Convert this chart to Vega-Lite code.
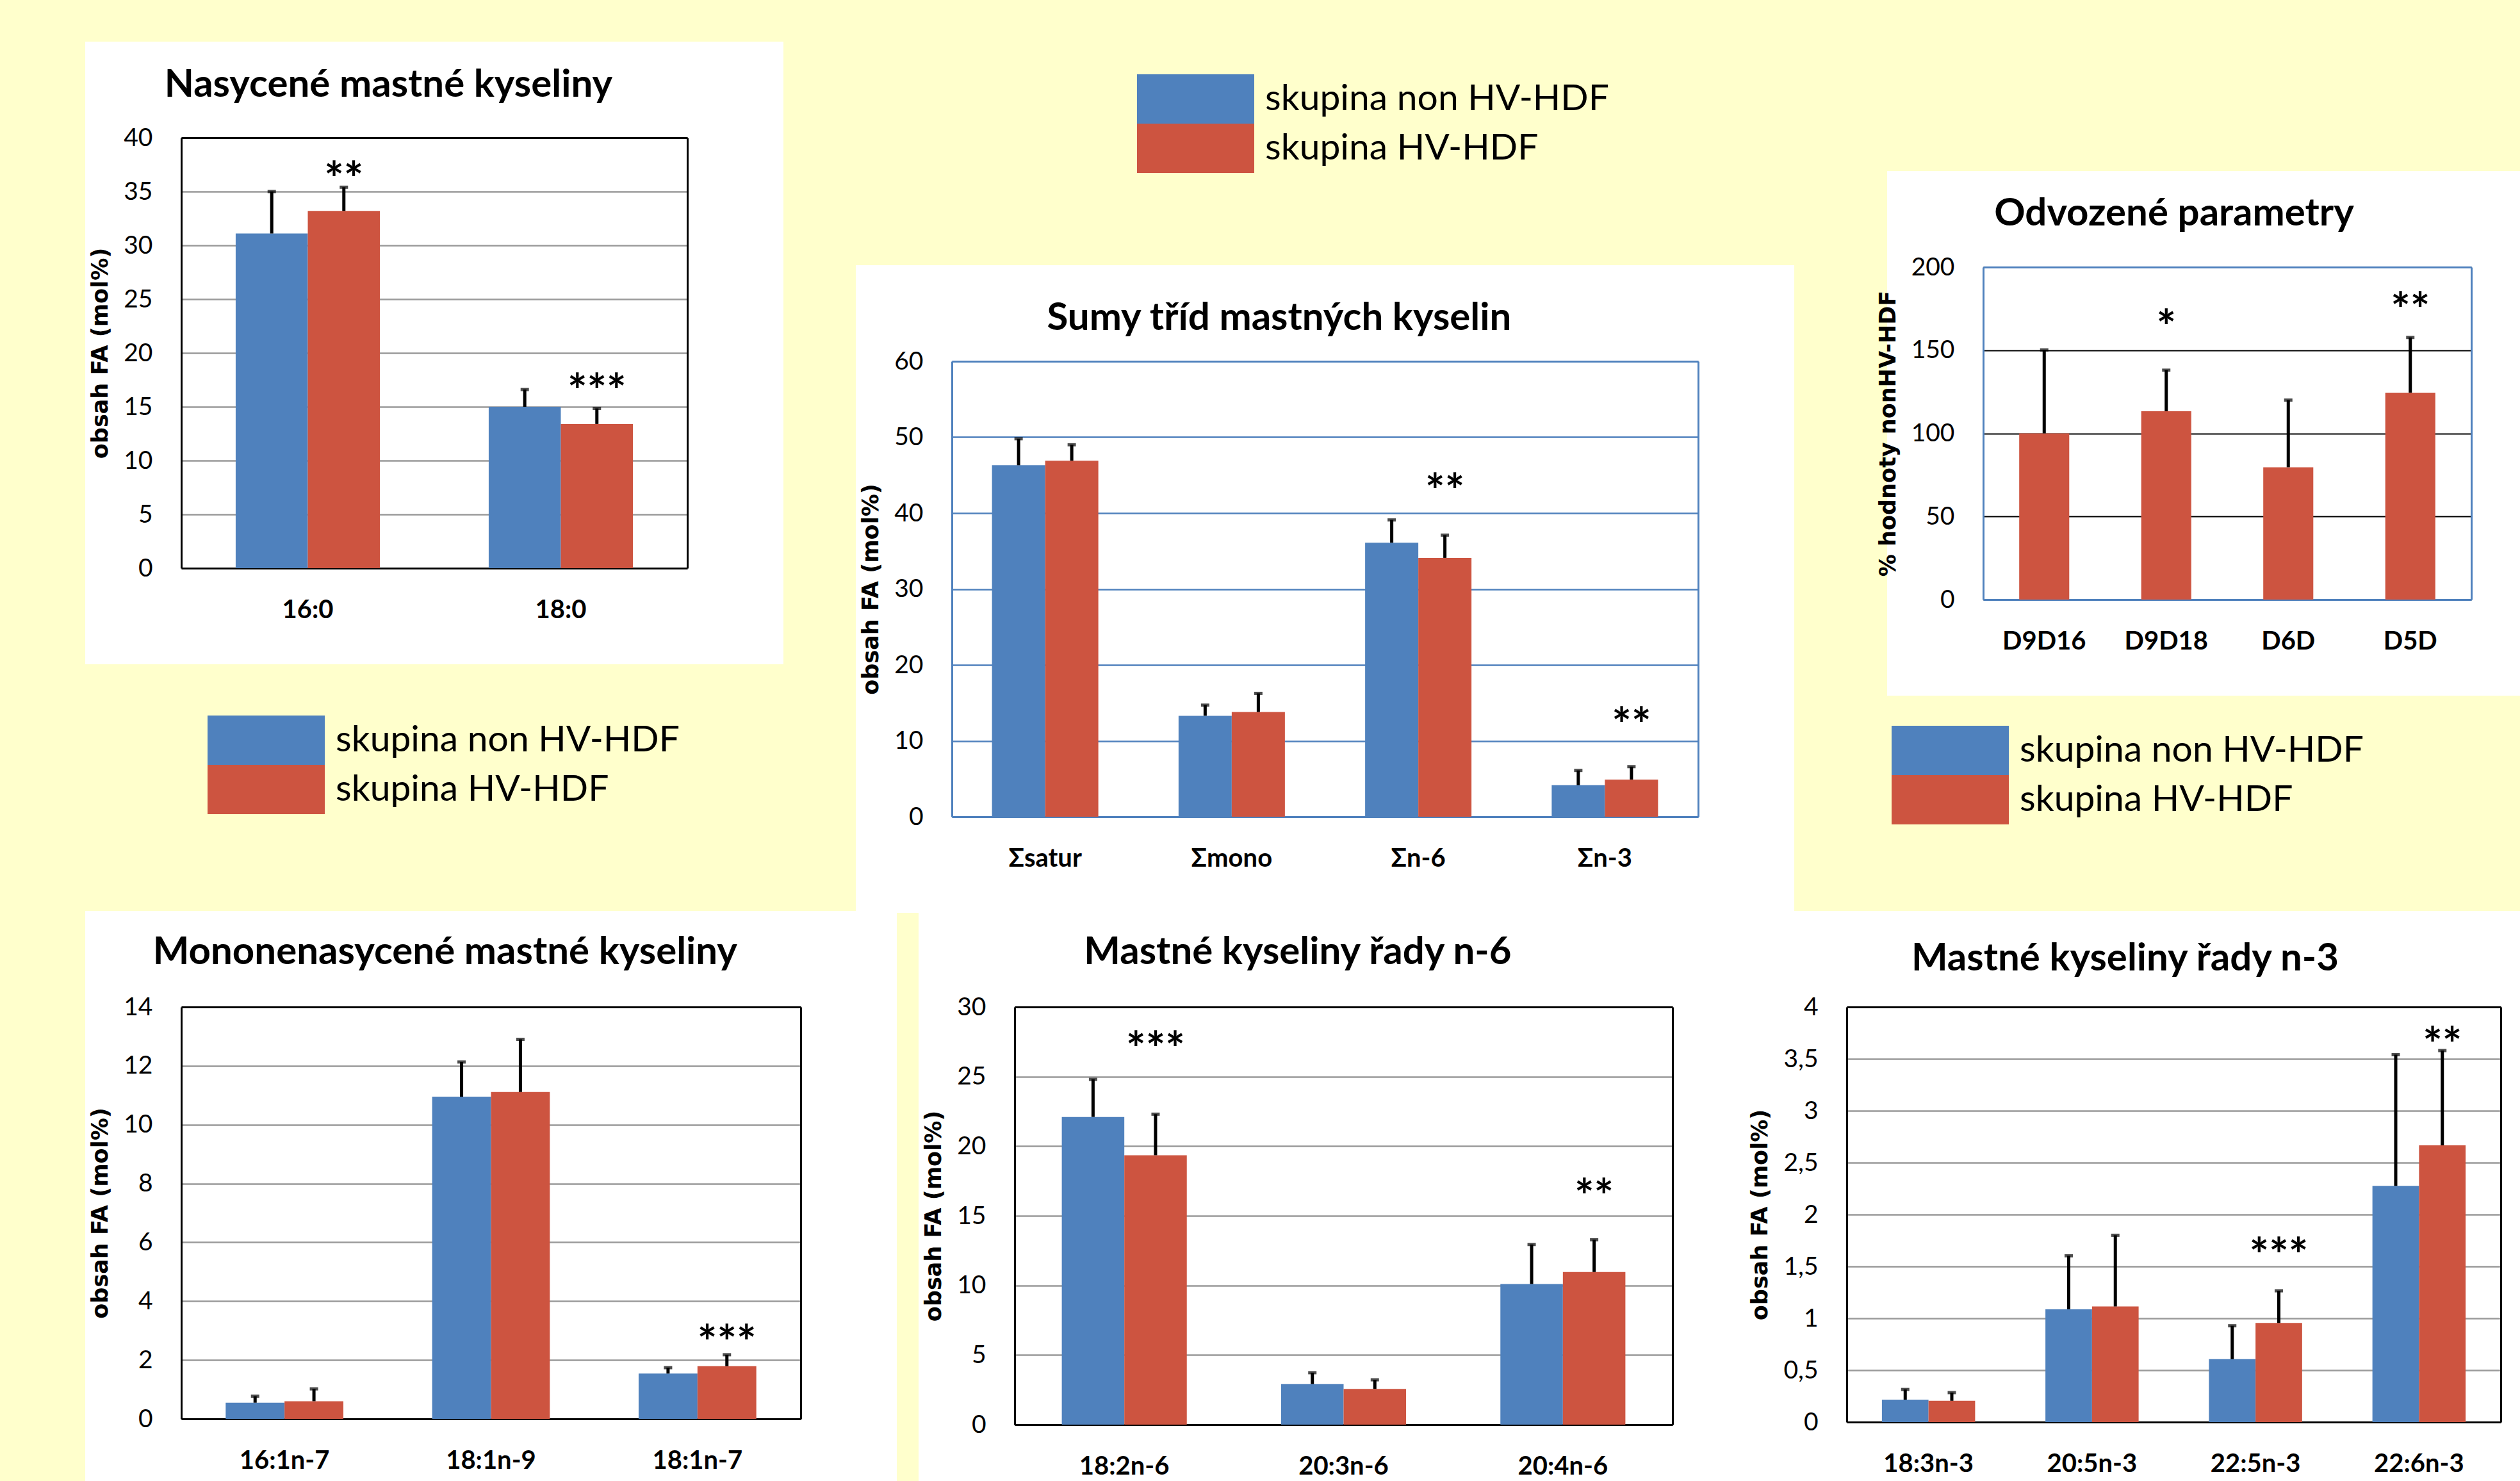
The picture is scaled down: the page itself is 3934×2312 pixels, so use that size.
{
  "$schema": "https://vega.github.io/schema/vega-lite/v6.json",
  "background": "#FFFFCC",
  "padding": {"left": -11, "top": -47, "right": -114, "bottom": -144},
  "datasets": {
    "sat": [
      {"cat": "16:0", "grp": "skupina non HV-HDF", "value": 31.1, "upper": 35.0},
      {"cat": "16:0", "grp": "skupina HV-HDF", "value": 33.2, "upper": 35.4, "sig": "**", "sig_y": 37.0},
      {"cat": "18:0", "grp": "skupina non HV-HDF", "value": 15.0, "upper": 16.6},
      {"cat": "18:0", "grp": "skupina HV-HDF", "value": 13.4, "upper": 14.85, "sig": "***", "sig_y": 17.3}
    ],
    "sum": [
      {"cat": "Σsatur", "grp": "skupina non HV-HDF", "value": 46.3, "upper": 49.8},
      {"cat": "Σsatur", "grp": "skupina HV-HDF", "value": 46.9, "upper": 49.0},
      {"cat": "Σmono", "grp": "skupina non HV-HDF", "value": 13.3, "upper": 14.7},
      {"cat": "Σmono", "grp": "skupina HV-HDF", "value": 13.8, "upper": 16.25},
      {"cat": "Σn-6", "grp": "skupina non HV-HDF", "value": 36.1, "upper": 39.1},
      {"cat": "Σn-6", "grp": "skupina HV-HDF", "value": 34.1, "upper": 37.1, "sig": "**", "sig_y": 44.1},
      {"cat": "Σn-3", "grp": "skupina non HV-HDF", "value": 4.15, "upper": 6.1},
      {"cat": "Σn-3", "grp": "skupina HV-HDF", "value": 4.9, "upper": 6.6, "sig": "**", "sig_y": 13.35}
    ],
    "der": [
      {"cat": "D9D16", "grp": "skupina HV-HDF", "value": 100, "upper": 150.2},
      {"cat": "D9D18", "grp": "skupina HV-HDF", "value": 113.3, "upper": 138, "sig": "*", "sig_y": 169.5},
      {"cat": "D6D", "grp": "skupina HV-HDF", "value": 79.6, "upper": 120},
      {"cat": "D5D", "grp": "skupina HV-HDF", "value": 124.5, "upper": 157.7, "sig": "**", "sig_y": 180}
    ],
    "mono": [
      {"cat": "16:1n-7", "grp": "skupina non HV-HDF", "value": 0.55, "upper": 0.77},
      {"cat": "16:1n-7", "grp": "skupina HV-HDF", "value": 0.6, "upper": 1.02},
      {"cat": "18:1n-9", "grp": "skupina non HV-HDF", "value": 10.95, "upper": 12.13},
      {"cat": "18:1n-9", "grp": "skupina HV-HDF", "value": 11.11, "upper": 12.9},
      {"cat": "18:1n-7", "grp": "skupina non HV-HDF", "value": 1.54, "upper": 1.74},
      {"cat": "18:1n-7", "grp": "skupina HV-HDF", "value": 1.79, "upper": 2.18, "sig": "***", "sig_y": 2.91}
    ],
    "n6": [
      {"cat": "18:2n-6", "grp": "skupina non HV-HDF", "value": 22.1, "upper": 24.8},
      {"cat": "18:2n-6", "grp": "skupina HV-HDF", "value": 19.35, "upper": 22.3, "sig": "***", "sig_y": 27.66},
      {"cat": "20:3n-6", "grp": "skupina non HV-HDF", "value": 2.91, "upper": 3.73},
      {"cat": "20:3n-6", "grp": "skupina HV-HDF", "value": 2.57, "upper": 3.22},
      {"cat": "20:4n-6", "grp": "skupina non HV-HDF", "value": 10.1, "upper": 12.94},
      {"cat": "20:4n-6", "grp": "skupina HV-HDF", "value": 10.96, "upper": 13.28, "sig": "**", "sig_y": 17.06}
    ],
    "n3": [
      {"cat": "18:3n-3", "grp": "skupina non HV-HDF", "value": 0.216, "upper": 0.314},
      {"cat": "18:3n-3", "grp": "skupina HV-HDF", "value": 0.205, "upper": 0.284},
      {"cat": "20:5n-3", "grp": "skupina non HV-HDF", "value": 1.087, "upper": 1.602},
      {"cat": "20:5n-3", "grp": "skupina HV-HDF", "value": 1.114, "upper": 1.8},
      {"cat": "22:5n-3", "grp": "skupina non HV-HDF", "value": 0.606, "upper": 0.928},
      {"cat": "22:5n-3", "grp": "skupina HV-HDF", "value": 0.955, "upper": 1.265, "sig": "***", "sig_y": 1.70},
      {"cat": "22:6n-3", "grp": "skupina non HV-HDF", "value": 2.277, "upper": 3.54},
      {"cat": "22:6n-3", "grp": "skupina HV-HDF", "value": 2.667, "upper": 3.58, "sig": "**", "sig_y": 3.73}
    ]
  },
  "config": {
    "font": "Lato",
    "locale": {"number": {"decimal": ",", "thousands": " ", "grouping": [3], "currency": ["", " Kč"]}},
    "title": {"font": "Lato", "fontSize": 60, "fontWeight": "bold", "color": "#000", "anchor": "middle", "frame": "bounds"},
    "axis": {"ticks": false, "labelColor": "#000", "titleColor": "#000", "labelFont": "Lato", "titleFont": "DejaVu Sans", "titleFontWeight": "bold", "titleFontSize": 35, "domainWidth": 3, "gridWidth": 2.5, "labelOverlap": false},
    "axisX": {"labelFontWeight": "bold", "labelFontSize": 40, "labelPadding": 45, "labelAngle": 0, "grid": false},
    "axisY": {"labelFontSize": 39, "labelPadding": 45, "titlePadding": 18},
    "legend": {"symbolType": "M-1,-0.42H1V0.42H-1Z", "symbolSize": 33489, "symbolStrokeWidth": 0, "labelFont": "Lato", "labelFontSize": 57, "labelColor": "#000", "labelOffset": 17, "rowPadding": 0, "clipHeight": 77, "padding": 0, "direction": "vertical", "labelLimit": 0, "symbolOpacity": 1}
  },
  "resolve": {"scale": {"color": "independent", "xOffset": "independent"}, "legend": {"color": "independent"}},
  "spacing": -203,
  "vconcat": [
    {
      "resolve": {"scale": {"color": "independent", "xOffset": "independent"}, "legend": {"color": "independent"}},
      "spacing": -21,
      "hconcat": [
        {
          "resolve": {"scale": {"color": "independent", "xOffset": "independent"}, "legend": {"color": "independent"}},
          "spacing": -31,
          "hconcat": [
            {
              "width": 790, "height": 672,
              "view": {"fill": "white", "stroke": "white", "strokeWidth": 300},
              "title": {"text": "Nasycené mastné kyseliny", "offset": 32},
              "data": {"name": "sat"},
              "resolve": {"axis": {"x": "independent", "y": "independent"}},
              "layer": [
                {"mark": {"type": "bar"},
                 "encoding": {
                   "x": {"field": "cat", "type": "nominal", "sort": null, "scale": {"domain": ["16:0", "18:0"], "paddingInner": 0.43, "paddingOuter": 0.215}, "axis": {"title": null, "domainColor": "#000"}},
                   "xOffset": {"field": "grp", "type": "nominal", "scale": {"domain": ["skupina non HV-HDF", "skupina HV-HDF"]}},
                   "y": {"field": "value", "type": "quantitative", "scale": {"domain": [0, 40], "nice": false}, "axis": {"title": "obsah FA (mol%)", "values": [0, 5, 10, 15, 20, 25, 30, 35, 40], "gridColor": "#9A9A9A", "domainColor": "#000"}},
                   "color": {"field": "grp", "type": "nominal", "scale": {"domain": ["skupina non HV-HDF", "skupina HV-HDF"], "range": ["#4F81BD", "#CD5440"]}, "legend": {"title": null, "orient": "none", "legendX": 41, "legendY": 902}}
                 }},
                {"mark": {"type": "rule", "color": "#000", "strokeWidth": 5},
                 "encoding": {
                   "x": {"field": "cat", "type": "nominal", "sort": null, "scale": {"domain": ["16:0", "18:0"]}, "axis": {"orient": "top", "labels": false, "title": null, "domainColor": "#000"}},
                   "xOffset": {"field": "grp", "type": "nominal", "scale": {"domain": ["skupina non HV-HDF", "skupina HV-HDF"]}},
                   "y": {"field": "value", "type": "quantitative", "scale": {"domain": [0, 40], "nice": false}, "axis": {"orient": "right", "labels": false, "title": null, "grid": false, "domainColor": "#000"}},
                   "y2": {"field": "upper"}
                 }},
                {"mark": {"type": "tick", "color": "#000", "thickness": 5, "size": 13},
                 "encoding": {
                   "x": {"field": "cat", "type": "nominal", "sort": null, "scale": {"domain": ["16:0", "18:0"]}, "axis": null},
                   "xOffset": {"field": "grp", "type": "nominal", "scale": {"domain": ["skupina non HV-HDF", "skupina HV-HDF"]}},
                   "y": {"field": "upper", "type": "quantitative", "scale": {"domain": [0, 40], "nice": false}, "axis": null}
                 }},
                {"transform": [{"filter": "isValid(datum.sig)"}],
                 "mark": {"type": "text", "font": "Lato", "fontWeight": "bold", "fontSize": 72, "dy": 19, "color": "#000"},
                 "encoding": {
                   "x": {"field": "cat", "type": "nominal", "sort": null, "scale": {"domain": ["16:0", "18:0"]}, "axis": null},
                   "xOffset": {"field": "grp", "type": "nominal", "scale": {"domain": ["skupina non HV-HDF", "skupina HV-HDF"]}},
                   "y": {"field": "sig_y", "type": "quantitative", "scale": {"domain": [0, 40], "nice": false}, "axis": null},
                   "text": {"field": "sig"}
                 }}
              ]
            },
            {
              "resolve": {"scale": {"color": "independent", "xOffset": "independent"}, "legend": {"color": "independent"}},
              "spacing": 47,
              "vconcat": [
                {
                  "width": 1, "height": 1,
                  "view": {"stroke": null, "fill": null},
                  "data": {"values": []},
                  "mark": {"type": "bar"},
                  "encoding": {
                    "color": {"field": "grp", "type": "nominal", "scale": {"domain": ["skupina non HV-HDF", "skupina HV-HDF"], "range": ["#4F81BD", "#CD5440"]}, "legend": {"title": null, "orient": "none", "legendX": 289, "legendY": -99}}
                  }
                },
                {
                  "width": 1165, "height": 711,
                  "view": {"fill": "white", "stroke": "white", "strokeWidth": 300},
                  "title": {"text": "Sumy tříd mastných kyselin", "offset": 17},
                  "data": {"name": "sum"},
                  "resolve": {"axis": {"x": "independent", "y": "independent"}},
                  "layer": [
                    {"mark": {"type": "bar"},
                     "encoding": {
                       "x": {"field": "cat", "type": "nominal", "sort": null, "scale": {"domain": ["Σsatur", "Σmono", "Σn-6", "Σn-3"], "paddingInner": 0.43, "paddingOuter": 0.215}, "axis": {"title": null, "domainColor": "#4F81BD"}},
                       "xOffset": {"field": "grp", "type": "nominal", "scale": {"domain": ["skupina non HV-HDF", "skupina HV-HDF"]}},
                       "y": {"field": "value", "type": "quantitative", "scale": {"domain": [0, 60], "nice": false}, "axis": {"title": "obsah FA (mol%)", "values": [0, 10, 20, 30, 40, 50, 60], "gridColor": "#4F81BD", "domainColor": "#4F81BD"}},
                       "color": {"field": "grp", "type": "nominal", "scale": {"domain": ["skupina non HV-HDF", "skupina HV-HDF"], "range": ["#4F81BD", "#CD5440"]}, "legend": null}
                     }},
                    {"mark": {"type": "rule", "color": "#000", "strokeWidth": 5},
                     "encoding": {
                       "x": {"field": "cat", "type": "nominal", "sort": null, "scale": {"domain": ["Σsatur", "Σmono", "Σn-6", "Σn-3"]}, "axis": {"orient": "top", "labels": false, "title": null, "domainColor": "#4F81BD"}},
                       "xOffset": {"field": "grp", "type": "nominal", "scale": {"domain": ["skupina non HV-HDF", "skupina HV-HDF"]}},
                       "y": {"field": "value", "type": "quantitative", "scale": {"domain": [0, 60], "nice": false}, "axis": {"orient": "right", "labels": false, "title": null, "grid": false, "domainColor": "#4F81BD"}},
                       "y2": {"field": "upper"}
                     }},
                    {"mark": {"type": "tick", "color": "#000", "thickness": 5, "size": 13},
                     "encoding": {
                       "x": {"field": "cat", "type": "nominal", "sort": null, "scale": {"domain": ["Σsatur", "Σmono", "Σn-6", "Σn-3"]}, "axis": null},
                       "xOffset": {"field": "grp", "type": "nominal", "scale": {"domain": ["skupina non HV-HDF", "skupina HV-HDF"]}},
                       "y": {"field": "upper", "type": "quantitative", "scale": {"domain": [0, 60], "nice": false}, "axis": null}
                     }},
                    {"transform": [{"filter": "isValid(datum.sig)"}],
                     "mark": {"type": "text", "font": "Lato", "fontWeight": "bold", "fontSize": 72, "dy": 19, "color": "#000"},
                     "encoding": {
                       "x": {"field": "cat", "type": "nominal", "sort": null, "scale": {"domain": ["Σsatur", "Σmono", "Σn-6", "Σn-3"]}, "axis": null},
                       "xOffset": {"field": "grp", "type": "nominal", "scale": {"domain": ["skupina non HV-HDF", "skupina HV-HDF"]}},
                       "y": {"field": "sig_y", "type": "quantitative", "scale": {"domain": [0, 60], "nice": false}, "axis": null},
                       "text": {"field": "sig"}
                     }}
                  ]
                }
              ]
            }
          ]
        },
        {
          "resolve": {"scale": {"color": "independent", "xOffset": "independent"}, "legend": {"color": "independent"}},
          "spacing": -62,
          "vconcat": [
            {
              "width": 1, "height": 1,
              "view": {"stroke": null, "fill": null},
              "data": {"values": []},
              "mark": {"type": "point"}
            },
            {
              "width": 762, "height": 519,
              "view": {"fill": "white", "stroke": "white", "strokeWidth": 300},
              "title": {"text": "Odvozené parametry", "offset": 33},
              "data": {"name": "der"},
              "resolve": {"axis": {"x": "independent", "y": "independent"}},
              "layer": [
                {"mark": {"type": "bar"},
                 "encoding": {
                   "x": {"field": "cat", "type": "nominal", "sort": null, "scale": {"domain": ["D9D16", "D9D18", "D6D", "D5D"], "paddingInner": 0.59, "paddingOuter": 0.295}, "axis": {"title": null, "domainColor": "#4F81BD"}},
                   "y": {"field": "value", "type": "quantitative", "scale": {"domain": [0, 200], "nice": false}, "axis": {"title": "% hodnoty nonHV-HDF", "values": [0, 50, 100, 150, 200], "gridColor": "#000", "gridWidth": 2, "domainColor": "#4F81BD"}},
                   "color": {"field": "grp", "type": "nominal", "scale": {"domain": ["skupina non HV-HDF", "skupina HV-HDF"], "range": ["#4F81BD", "#CD5440"]}, "legend": {"title": null, "orient": "none", "legendX": -143, "legendY": 716}}
                 }},
                {"mark": {"type": "rule", "color": "#000", "strokeWidth": 5},
                 "encoding": {
                   "x": {"field": "cat", "type": "nominal", "sort": null, "scale": {"domain": ["D9D16", "D9D18", "D6D", "D5D"]}, "axis": {"orient": "top", "labels": false, "title": null, "domainColor": "#4F81BD"}},
                   "y": {"field": "value", "type": "quantitative", "scale": {"domain": [0, 200], "nice": false}, "axis": {"orient": "right", "labels": false, "title": null, "grid": false, "domainColor": "#4F81BD"}},
                   "y2": {"field": "upper"}
                 }},
                {"mark": {"type": "tick", "color": "#000", "thickness": 5, "size": 13},
                 "encoding": {
                   "x": {"field": "cat", "type": "nominal", "sort": null, "scale": {"domain": ["D9D16", "D9D18", "D6D", "D5D"]}, "axis": null},
                   "y": {"field": "upper", "type": "quantitative", "scale": {"domain": [0, 200], "nice": false}, "axis": null}
                 }},
                {"transform": [{"filter": "isValid(datum.sig)"}],
                 "mark": {"type": "text", "font": "Lato", "fontWeight": "bold", "fontSize": 72, "dy": 19, "color": "#000"},
                 "encoding": {
                   "x": {"field": "cat", "type": "nominal", "sort": null, "scale": {"domain": ["D9D16", "D9D18", "D6D", "D5D"]}, "axis": null},
                   "y": {"field": "sig_y", "type": "quantitative", "scale": {"domain": [0, 200], "nice": false}, "axis": null},
                   "text": {"field": "sig"}
                 }}
              ]
            }
          ]
        }
      ]
    },
    {
      "resolve": {"scale": {"color": "independent", "xOffset": "independent"}, "legend": {"color": "independent"}},
      "spacing": -181,
      "hconcat": [
        {
          "resolve": {"scale": {"color": "independent", "xOffset": "independent"}, "legend": {"color": "independent"}},
          "spacing": -110,
          "hconcat": [
            {
              "width": 967, "height": 643,
              "view": {"fill": "white", "stroke": "white", "strokeWidth": 300},
              "title": {"text": "Mononenasycené mastné kyseliny", "offset": 35},
              "data": {"name": "mono"},
              "resolve": {"axis": {"x": "independent", "y": "independent"}},
              "layer": [
                {"mark": {"type": "bar"},
                 "encoding": {
                   "x": {"field": "cat", "type": "nominal", "sort": null, "scale": {"domain": ["16:1n-7", "18:1n-9", "18:1n-7"], "paddingInner": 0.43, "paddingOuter": 0.215}, "axis": {"title": null, "domainColor": "#000"}},
                   "xOffset": {"field": "grp", "type": "nominal", "scale": {"domain": ["skupina non HV-HDF", "skupina HV-HDF"]}},
                   "y": {"field": "value", "type": "quantitative", "scale": {"domain": [0, 14], "nice": false}, "axis": {"title": "obsah FA (mol%)", "values": [0, 2, 4, 6, 8, 10, 12, 14], "gridColor": "#9A9A9A", "domainColor": "#000"}},
                   "color": {"field": "grp", "type": "nominal", "scale": {"domain": ["skupina non HV-HDF", "skupina HV-HDF"], "range": ["#4F81BD", "#CD5440"]}, "legend": null}
                 }},
                {"mark": {"type": "rule", "color": "#000", "strokeWidth": 5},
                 "encoding": {
                   "x": {"field": "cat", "type": "nominal", "sort": null, "scale": {"domain": ["16:1n-7", "18:1n-9", "18:1n-7"]}, "axis": {"orient": "top", "labels": false, "title": null, "domainColor": "#000"}},
                   "xOffset": {"field": "grp", "type": "nominal", "scale": {"domain": ["skupina non HV-HDF", "skupina HV-HDF"]}},
                   "y": {"field": "value", "type": "quantitative", "scale": {"domain": [0, 14], "nice": false}, "axis": {"orient": "right", "labels": false, "title": null, "grid": false, "domainColor": "#000"}},
                   "y2": {"field": "upper"}
                 }},
                {"mark": {"type": "tick", "color": "#000", "thickness": 5, "size": 13},
                 "encoding": {
                   "x": {"field": "cat", "type": "nominal", "sort": null, "scale": {"domain": ["16:1n-7", "18:1n-9", "18:1n-7"]}, "axis": null},
                   "xOffset": {"field": "grp", "type": "nominal", "scale": {"domain": ["skupina non HV-HDF", "skupina HV-HDF"]}},
                   "y": {"field": "upper", "type": "quantitative", "scale": {"domain": [0, 14], "nice": false}, "axis": null}
                 }},
                {"transform": [{"filter": "isValid(datum.sig)"}],
                 "mark": {"type": "text", "font": "Lato", "fontWeight": "bold", "fontSize": 72, "dy": 19, "color": "#000"},
                 "encoding": {
                   "x": {"field": "cat", "type": "nominal", "sort": null, "scale": {"domain": ["16:1n-7", "18:1n-9", "18:1n-7"]}, "axis": null},
                   "xOffset": {"field": "grp", "type": "nominal", "scale": {"domain": ["skupina non HV-HDF", "skupina HV-HDF"]}},
                   "y": {"field": "sig_y", "type": "quantitative", "scale": {"domain": [0, 14], "nice": false}, "axis": null},
                   "text": {"field": "sig"}
                 }}
              ]
            },
            {
              "width": 1027, "height": 652,
              "view": {"fill": "white", "stroke": "white", "strokeWidth": 300},
              "title": {"text": "Mastné kyseliny řady n-6", "offset": 35},
              "data": {"name": "n6"},
              "resolve": {"axis": {"x": "independent", "y": "independent"}},
              "layer": [
                {"mark": {"type": "bar"},
                 "encoding": {
                   "x": {"field": "cat", "type": "nominal", "sort": null, "scale": {"domain": ["18:2n-6", "20:3n-6", "20:4n-6"], "paddingInner": 0.43, "paddingOuter": 0.215}, "axis": {"title": null, "domainColor": "#000"}},
                   "xOffset": {"field": "grp", "type": "nominal", "scale": {"domain": ["skupina non HV-HDF", "skupina HV-HDF"]}},
                   "y": {"field": "value", "type": "quantitative", "scale": {"domain": [0, 30], "nice": false}, "axis": {"title": "obsah FA (mol%)", "values": [0, 5, 10, 15, 20, 25, 30], "gridColor": "#9A9A9A", "domainColor": "#000"}},
                   "color": {"field": "grp", "type": "nominal", "scale": {"domain": ["skupina non HV-HDF", "skupina HV-HDF"], "range": ["#4F81BD", "#CD5440"]}, "legend": null}
                 }},
                {"mark": {"type": "rule", "color": "#000", "strokeWidth": 5},
                 "encoding": {
                   "x": {"field": "cat", "type": "nominal", "sort": null, "scale": {"domain": ["18:2n-6", "20:3n-6", "20:4n-6"]}, "axis": {"orient": "top", "labels": false, "title": null, "domainColor": "#000"}},
                   "xOffset": {"field": "grp", "type": "nominal", "scale": {"domain": ["skupina non HV-HDF", "skupina HV-HDF"]}},
                   "y": {"field": "value", "type": "quantitative", "scale": {"domain": [0, 30], "nice": false}, "axis": {"orient": "right", "labels": false, "title": null, "grid": false, "domainColor": "#000"}},
                   "y2": {"field": "upper"}
                 }},
                {"mark": {"type": "tick", "color": "#000", "thickness": 5, "size": 13},
                 "encoding": {
                   "x": {"field": "cat", "type": "nominal", "sort": null, "scale": {"domain": ["18:2n-6", "20:3n-6", "20:4n-6"]}, "axis": null},
                   "xOffset": {"field": "grp", "type": "nominal", "scale": {"domain": ["skupina non HV-HDF", "skupina HV-HDF"]}},
                   "y": {"field": "upper", "type": "quantitative", "scale": {"domain": [0, 30], "nice": false}, "axis": null}
                 }},
                {"transform": [{"filter": "isValid(datum.sig)"}],
                 "mark": {"type": "text", "font": "Lato", "fontWeight": "bold", "fontSize": 72, "dy": 19, "color": "#000"},
                 "encoding": {
                   "x": {"field": "cat", "type": "nominal", "sort": null, "scale": {"domain": ["18:2n-6", "20:3n-6", "20:4n-6"]}, "axis": null},
                   "xOffset": {"field": "grp", "type": "nominal", "scale": {"domain": ["skupina non HV-HDF", "skupina HV-HDF"]}},
                   "y": {"field": "sig_y", "type": "quantitative", "scale": {"domain": [0, 30], "nice": false}, "axis": null},
                   "text": {"field": "sig"}
                 }}
              ]
            }
          ]
        },
        {
          "width": 1021, "height": 648,
          "view": {"fill": "white", "stroke": "white", "strokeWidth": 300},
          "title": {"text": "Mastné kyseliny řady n-3", "offset": 25},
          "data": {"name": "n3"},
          "resolve": {"axis": {"x": "independent", "y": "independent"}},
          "layer": [
            {"mark": {"type": "bar"},
             "encoding": {
               "x": {"field": "cat", "type": "nominal", "sort": null, "scale": {"domain": ["18:3n-3", "20:5n-3", "22:5n-3", "22:6n-3"], "paddingInner": 0.43, "paddingOuter": 0.215}, "axis": {"title": null, "domainColor": "#000"}},
               "xOffset": {"field": "grp", "type": "nominal", "scale": {"domain": ["skupina non HV-HDF", "skupina HV-HDF"]}},
               "y": {"field": "value", "type": "quantitative", "scale": {"domain": [0, 4], "nice": false}, "axis": {"title": "obsah FA (mol%)", "format": "~g", "values": [0, 0.5, 1, 1.5, 2, 2.5, 3, 3.5, 4], "gridColor": "#9A9A9A", "domainColor": "#000"}},
               "color": {"field": "grp", "type": "nominal", "scale": {"domain": ["skupina non HV-HDF", "skupina HV-HDF"], "range": ["#4F81BD", "#CD5440"]}, "legend": null}
             }},
            {"mark": {"type": "rule", "color": "#000", "strokeWidth": 5},
             "encoding": {
               "x": {"field": "cat", "type": "nominal", "sort": null, "scale": {"domain": ["18:3n-3", "20:5n-3", "22:5n-3", "22:6n-3"]}, "axis": {"orient": "top", "labels": false, "title": null, "domainColor": "#000"}},
               "xOffset": {"field": "grp", "type": "nominal", "scale": {"domain": ["skupina non HV-HDF", "skupina HV-HDF"]}},
               "y": {"field": "value", "type": "quantitative", "scale": {"domain": [0, 4], "nice": false}, "axis": {"orient": "right", "labels": false, "title": null, "grid": false, "domainColor": "#000"}},
               "y2": {"field": "upper"}
             }},
            {"mark": {"type": "tick", "color": "#000", "thickness": 5, "size": 13},
             "encoding": {
               "x": {"field": "cat", "type": "nominal", "sort": null, "scale": {"domain": ["18:3n-3", "20:5n-3", "22:5n-3", "22:6n-3"]}, "axis": null},
               "xOffset": {"field": "grp", "type": "nominal", "scale": {"domain": ["skupina non HV-HDF", "skupina HV-HDF"]}},
               "y": {"field": "upper", "type": "quantitative", "scale": {"domain": [0, 4], "nice": false}, "axis": null}
             }},
            {"transform": [{"filter": "isValid(datum.sig)"}],
             "mark": {"type": "text", "font": "Lato", "fontWeight": "bold", "fontSize": 72, "dy": 19, "color": "#000"},
             "encoding": {
               "x": {"field": "cat", "type": "nominal", "sort": null, "scale": {"domain": ["18:3n-3", "20:5n-3", "22:5n-3", "22:6n-3"]}, "axis": null},
               "xOffset": {"field": "grp", "type": "nominal", "scale": {"domain": ["skupina non HV-HDF", "skupina HV-HDF"]}},
               "y": {"field": "sig_y", "type": "quantitative", "scale": {"domain": [0, 4], "nice": false}, "axis": null},
               "text": {"field": "sig"}
             }}
          ]
        }
      ]
    }
  ]
}
